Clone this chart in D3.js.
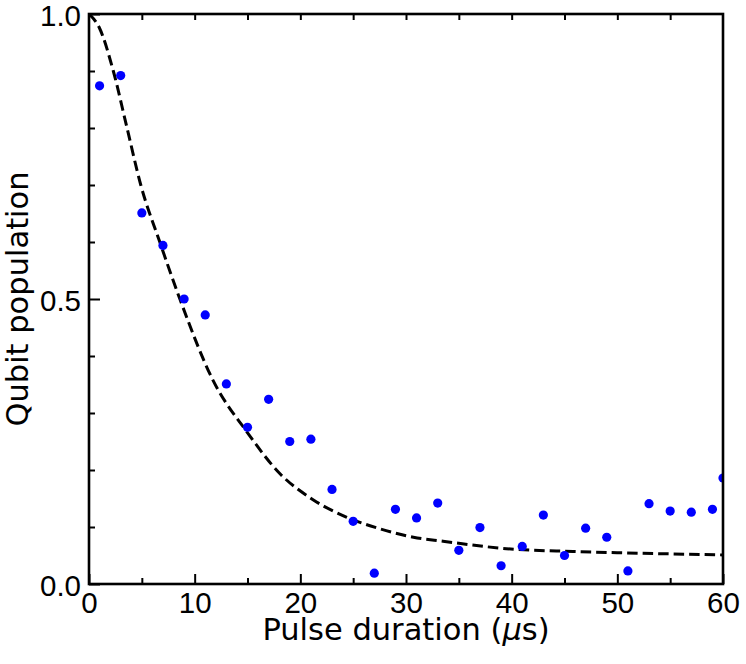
<!DOCTYPE html>
<html lang="en">
<head>
<meta charset="UTF-8">
<title>Qubit population vs pulse duration</title>
<script src="https://cdn.jsdelivr.net/npm/d3@7"></script>
<style>
  html, body { margin: 0; padding: 0; background: #fff; }
  svg { display: block; font-family: "DejaVu Sans", sans-serif; }
</style>
</head>
<body>
<div id="chart"></div>
<script>
// measured points (pulse duration in us, population)
const pulseTimes = [1, 3, 5, 7, 9, 11, 13, 15, 17, 19, 21, 23, 25, 27, 29, 31, 33, 35,
                    37, 39, 41, 43, 45, 47, 49, 51, 53, 55, 57, 59, 60];
const population = [0.874, 0.892, 0.651, 0.594, 0.500, 0.472, 0.351, 0.275, 0.324, 0.250,
                    0.254, 0.166, 0.110, 0.019, 0.131, 0.116, 0.142, 0.059, 0.099, 0.032,
                    0.066, 0.121, 0.050, 0.098, 0.082, 0.023, 0.141, 0.128, 0.126, 0.131, 0.186];

// fitted decay curve
const fitTimes = [0, 1.0, 2.3, 3.6, 4.9, 6.7, 8.6, 11.8, 14.9, 18.1, 21.2, 24.4, 27.5,
                  30.7, 33.5, 39.5, 45.8, 52.1, 60];
const fitValues = [1.0, 0.975, 0.9, 0.8, 0.7, 0.6, 0.5, 0.355, 0.268, 0.193, 0.148, 0.117,
                   0.097, 0.082, 0.075, 0.062, 0.057, 0.054, 0.051];

const xTicks = [0, 10, 20, 30, 40, 50, 60];
const yTickLabels = ["0.0", "0.5", "1.0"];

const width = 746, height = 664;
const margin = { top: 14, right: 23, bottom: 80, left: 89 };
const iw = width - margin.left - margin.right;
const ih = height - margin.top - margin.bottom;
const tickFont = 29.5, labelFont = 30.5;

const svg = d3.select("#chart").append("svg")
  .attr("width", width)
  .attr("height", height);

const g = svg.append("g").attr("transform", `translate(${margin.left},${margin.top})`);

const x = d3.scaleLinear().domain([0, 60]).range([0, iw]);
const y = d3.scaleLinear().domain([0, 1]).range([ih, 0]);

g.append("clipPath").attr("id", "clip")
  .append("rect").attr("width", iw).attr("height", ih);

const plot = g.append("g").attr("clip-path", "url(#clip)");

// fit line
const line = d3.line()
  .x((d, i) => x(fitTimes[i]))
  .y(d => y(d))
  .curve(d3.curveMonotoneX);

plot.append("path")
  .datum(fitValues)
  .attr("d", line)
  .attr("fill", "none")
  .attr("stroke", "#000")
  .attr("stroke-width", 3)
  .attr("stroke-dasharray", "10.5,5");

// data points
plot.selectAll("circle")
  .data(population)
  .enter()
  .append("circle")
  .attr("cx", (d, i) => x(pulseTimes[i]))
  .attr("cy", d => y(d))
  .attr("r", 4.6)
  .attr("fill", "#0000ff");

// ticks, all pointing inward
function styleAxis(sel) {
  sel.select(".domain").remove();
  sel.selectAll(".tick line").attr("stroke", "#000").attr("stroke-width", 2);
  sel.selectAll(".tick text").attr("font-size", tickFont).attr("fill", "#000");
}

// bottom: major every 10, minor every 5
g.append("g")
  .attr("transform", `translate(0,${ih})`)
  .call(d3.axisBottom(x).tickValues(d3.range(5, 60, 10)).tickSize(-6).tickFormat(""))
  .call(styleAxis);
g.append("g")
  .attr("transform", `translate(0,${ih})`)
  .call(d3.axisBottom(x).tickValues(xTicks).tickSize(-10).tickPadding(8).tickFormat(d3.format("d")))
  .call(styleAxis);

// top: short ticks every 5
g.append("g")
  .call(d3.axisTop(x).tickValues(d3.range(5, 60, 5)).tickSize(-6).tickFormat(""))
  .call(styleAxis);

// left: minor every 0.1, major every 0.5
g.append("g")
  .call(d3.axisLeft(y).tickValues([0.1, 0.2, 0.3, 0.4, 0.6, 0.7, 0.8, 0.9]).tickSize(-6).tickFormat(""))
  .call(styleAxis);
g.append("g")
  .call(d3.axisLeft(y).tickValues([0, 0.5, 1]).tickSize(-11).tickPadding(8)
    .tickFormat((d, i) => yTickLabels[i]))
  .call(styleAxis)
  .selectAll(".tick text").attr("dy", "0.4em");

// frame
g.append("rect")
  .attr("width", iw)
  .attr("height", ih)
  .attr("fill", "none")
  .attr("stroke", "#000")
  .attr("stroke-width", 2.6);

// axis labels
const xl = svg.append("text")
  .attr("x", margin.left + iw / 2)
  .attr("y", 640)
  .attr("text-anchor", "middle")
  .attr("font-size", labelFont)
  .text("Pulse duration (");
xl.append("tspan").attr("font-style", "italic").text("\u03bc");
xl.append("tspan").text("s)");

svg.append("text")
  .attr("transform", `translate(28,${margin.top + ih / 2}) rotate(-90)`)
  .attr("text-anchor", "middle")
  .attr("font-size", labelFont)
  .text("Qubit population");
</script>
</body>
</html>
